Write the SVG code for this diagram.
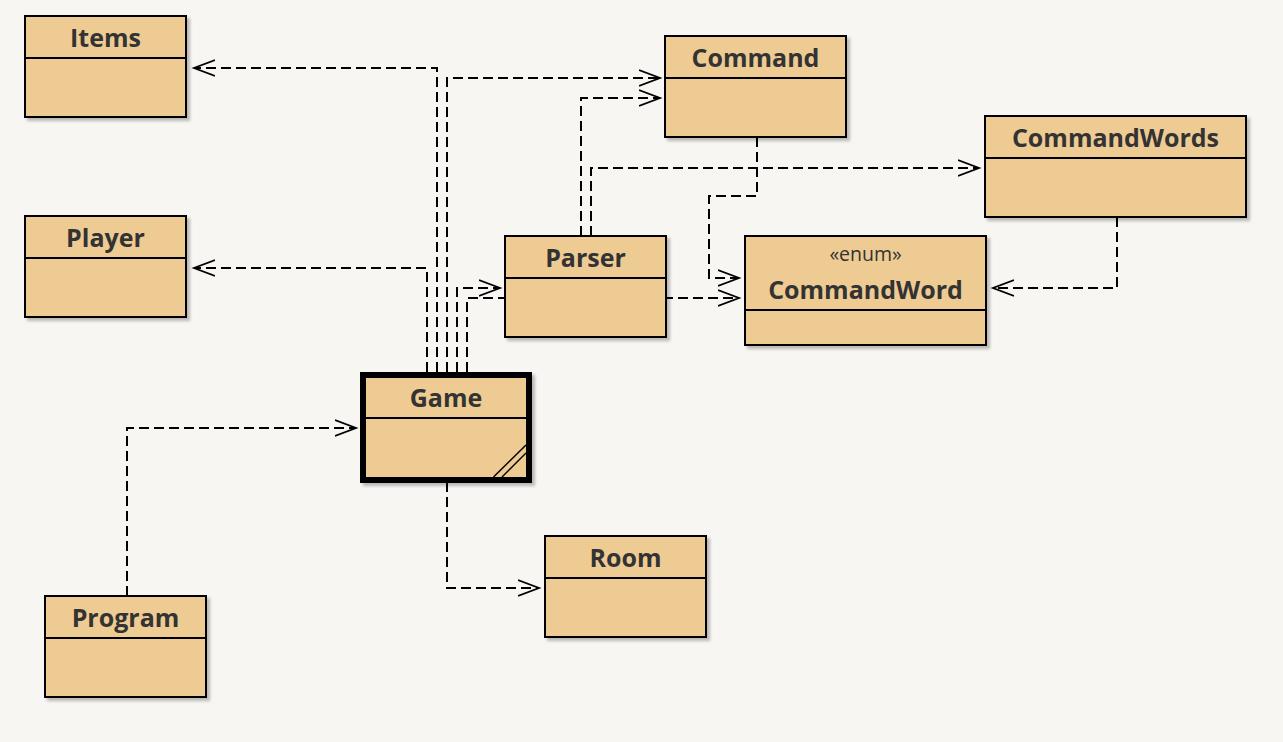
<svg xmlns="http://www.w3.org/2000/svg" width="1283" height="742" viewBox="0 0 1283 742">
<defs>
<filter id="sh" x="-10%" y="-10%" width="130%" height="130%">
<feDropShadow dx="3" dy="3" stdDeviation="1.5" flood-color="#000" flood-opacity="0.25"/>
</filter>
<marker id="arr" markerWidth="24" markerHeight="20" refX="21" refY="9" orient="auto" markerUnits="userSpaceOnUse">
<path d="M0,1 L21,9 L0,17" fill="none" stroke="#000" stroke-width="1.8"/>
</marker>
</defs>
<style>
.box{fill:#EFCB94;stroke:#000;stroke-width:2;filter:url(#sh)}
.thick{fill:#EFCB94;stroke:#000;stroke-width:6;filter:url(#sh)}
.div{stroke:#000;stroke-width:2}
.t{font-family:"Open Sans","Noto Sans",sans-serif;font-weight:bold;font-size:25px;fill:#333;text-anchor:middle}
.st{font-family:"Open Sans","Noto Sans",sans-serif;font-size:19.5px;fill:#333;text-anchor:middle}
.c{fill:none;stroke:#000;stroke-width:2;stroke-dasharray:10,5;marker-end:url(#arr)}
</style>
<rect width="1283" height="742" fill="#F7F6F2"/>
<g id="connectors">
<path class="c" d="M427,372 V268 H194"/>
<path class="c" d="M437,372 V68 H194"/>
<path class="c" d="M447,372 V78 H660"/>
<path class="c" d="M457,372 V288 H500"/>
<path class="c" d="M467,372 V298 H739"/>
<path class="c" d="M581,236 V98 H660"/>
<path class="c" d="M591,236 V168 H979"/>
<path class="c" d="M757,137 V196 H709 V278 H739"/>
<path class="c" d="M1117,217 V288 H993"/>
<path class="c" d="M447,482 V588 H539"/>
<path class="c" d="M127,596 V428 H356"/>
</g>
<g id="Items">
<rect class="box" x="25" y="16" width="161" height="101"/>
<line class="div" x1="25" y1="58" x2="186" y2="58"/>
<text class="t" x="105.5" y="47">Items</text>
</g>
<g id="Player">
<rect class="box" x="25" y="216" width="161" height="101"/>
<line class="div" x1="25" y1="258" x2="186" y2="258"/>
<text class="t" x="105.5" y="247">Player</text>
</g>
<g id="Command">
<rect class="box" x="665" y="36" width="181" height="101"/>
<line class="div" x1="665" y1="78" x2="846" y2="78"/>
<text class="t" x="755.5" y="67">Command</text>
</g>
<g id="CommandWords">
<rect class="box" x="985" y="116" width="261" height="101"/>
<line class="div" x1="985" y1="158" x2="1246" y2="158"/>
<text class="t" x="1115.5" y="147">CommandWords</text>
</g>
<g id="Parser">
<rect class="box" x="505" y="236" width="161" height="101"/>
<line class="div" x1="505" y1="278" x2="666" y2="278"/>
<text class="t" x="585.5" y="267">Parser</text>
</g>
<g id="CommandWord">
<rect class="box" x="745" y="236" width="241" height="109"/>
<line class="div" x1="745" y1="310" x2="986" y2="310"/>
<text class="st" x="865.5" y="261">«enum»</text>
<text class="t" x="865.5" y="299">CommandWord</text>
</g>
<g id="Game">
<rect class="thick" x="363" y="375" width="166" height="105"/>
<line class="div" x1="363" y1="418" x2="529" y2="418"/>
<text class="t" x="446" y="407">Game</text>
<line stroke="#000" stroke-width="1.5" x1="493.5" y1="477" x2="526" y2="445"/>
<line stroke="#000" stroke-width="1.5" x1="502" y1="477" x2="526" y2="453"/>
</g>
<g id="Room">
<rect class="box" x="545" y="536" width="161" height="101"/>
<line class="div" x1="545" y1="578" x2="706" y2="578"/>
<text class="t" x="625.5" y="567">Room</text>
</g>
<g id="Program">
<rect class="box" x="45" y="596" width="161" height="101"/>
<line class="div" x1="45" y1="638" x2="206" y2="638"/>
<text class="t" x="125.5" y="627">Program</text>
</g>
</svg>
